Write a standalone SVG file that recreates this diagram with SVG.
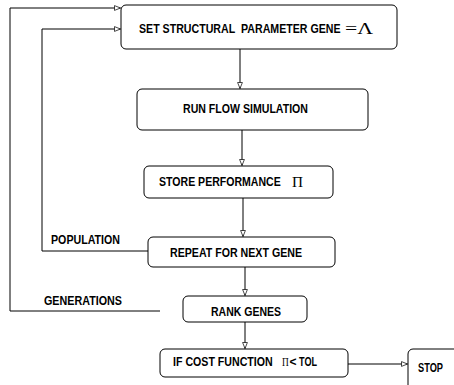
<svg xmlns="http://www.w3.org/2000/svg" width="454" height="385" viewBox="0 0 454 385">
<defs>
<style>
.box{fill:#fff;stroke:#000;stroke-width:1}
.t{font-family:"Liberation Sans",Arial,sans-serif;font-weight:bold;font-size:12px;fill:#000}
.s{font-family:"Liberation Serif","Times New Roman",serif;fill:#000}
.c{fill:none;stroke:#000;stroke-width:1}
</style>
<marker id="a" viewBox="0 0 10 10" refX="10" refY="5" markerWidth="8" markerHeight="6" markerUnits="userSpaceOnUse" orient="auto">
<path d="M0,1 L10,5 L0,9 Z" fill="#fff" stroke="#000" stroke-width="1.2"/>
</marker>
</defs>
<rect width="454" height="385" fill="#fff"/>
<g id="connectors">
<path class="c" d="M240,49 V88.5" marker-end="url(#a)"/>
<path class="c" d="M242,130 V165.5" marker-end="url(#a)"/>
<path class="c" d="M243,198 V236.5" marker-end="url(#a)"/>
<path class="c" d="M245,267 V295.5" marker-end="url(#a)"/>
<path class="c" d="M245,322 V348.5" marker-end="url(#a)"/>
<path class="c" d="M348,364 H407.5" marker-end="url(#a)"/>
<path class="c" d="M148,251 H42 V29 H120.5" marker-end="url(#a)"/>
<path class="c" d="M160,311 H10 V8 H120.5" marker-end="url(#a)"/>
<text class="t" x="51" y="244" textLength="69" lengthAdjust="spacingAndGlyphs">POPULATION</text>
<text class="t" x="44" y="305" textLength="78" lengthAdjust="spacingAndGlyphs">GENERATIONS</text>
</g>
<g id="set-gene">
<rect class="box" x="121" y="5" width="276" height="44" rx="5"/>
<text class="t" transform="translate(139,33) scale(0.885,1)">SET STRUCTURAL&#160; PARAMETER GENE</text>
<text class="s" x="345" y="34" font-size="17" textLength="28" lengthAdjust="spacingAndGlyphs">=Λ</text>
</g>
<g id="run-flow">
<rect class="box" x="137" y="89" width="231" height="41" rx="5"/>
<text class="t" x="183" y="113" textLength="125" lengthAdjust="spacingAndGlyphs">RUN FLOW SIMULATION</text>
</g>
<g id="store-perf">
<rect class="box" x="144" y="166" width="189" height="32" rx="5"/>
<text class="t" transform="translate(159,186) scale(0.88,1)">STORE PERFORMANCE</text>
<text class="s" x="292" y="187" font-size="14" textLength="11" lengthAdjust="spacingAndGlyphs">Π</text>
</g>
<g id="repeat">
<rect class="box" x="148" y="237" width="187" height="30" rx="5"/>
<text class="t" x="170" y="257" textLength="132" lengthAdjust="spacingAndGlyphs">REPEAT FOR NEXT GENE</text>
</g>
<g id="rank">
<rect class="box" x="183" y="296" width="124" height="26" rx="5"/>
<text class="t" x="211" y="316" textLength="70" lengthAdjust="spacingAndGlyphs">RANK GENES</text>
</g>
<g id="cost">
<rect class="box" x="160" y="349" width="188" height="28" rx="5"/>
<text class="t" transform="translate(173,366) scale(0.885,1)">IF COST FUNCTION</text>
<text class="s" transform="translate(282,366) scale(0.78,1)" font-size="12">Π</text>
<text class="t" x="289.5" y="366" font-weight="normal">&lt;</text>
<text class="t" x="299" y="366" textLength="18" lengthAdjust="spacingAndGlyphs">TOL</text>
</g>
<g id="stop">
<rect class="box" x="408" y="349" width="60" height="50" rx="5"/>
<text class="t" x="418" y="372" textLength="25" lengthAdjust="spacingAndGlyphs">STOP</text>
</g>
</svg>
